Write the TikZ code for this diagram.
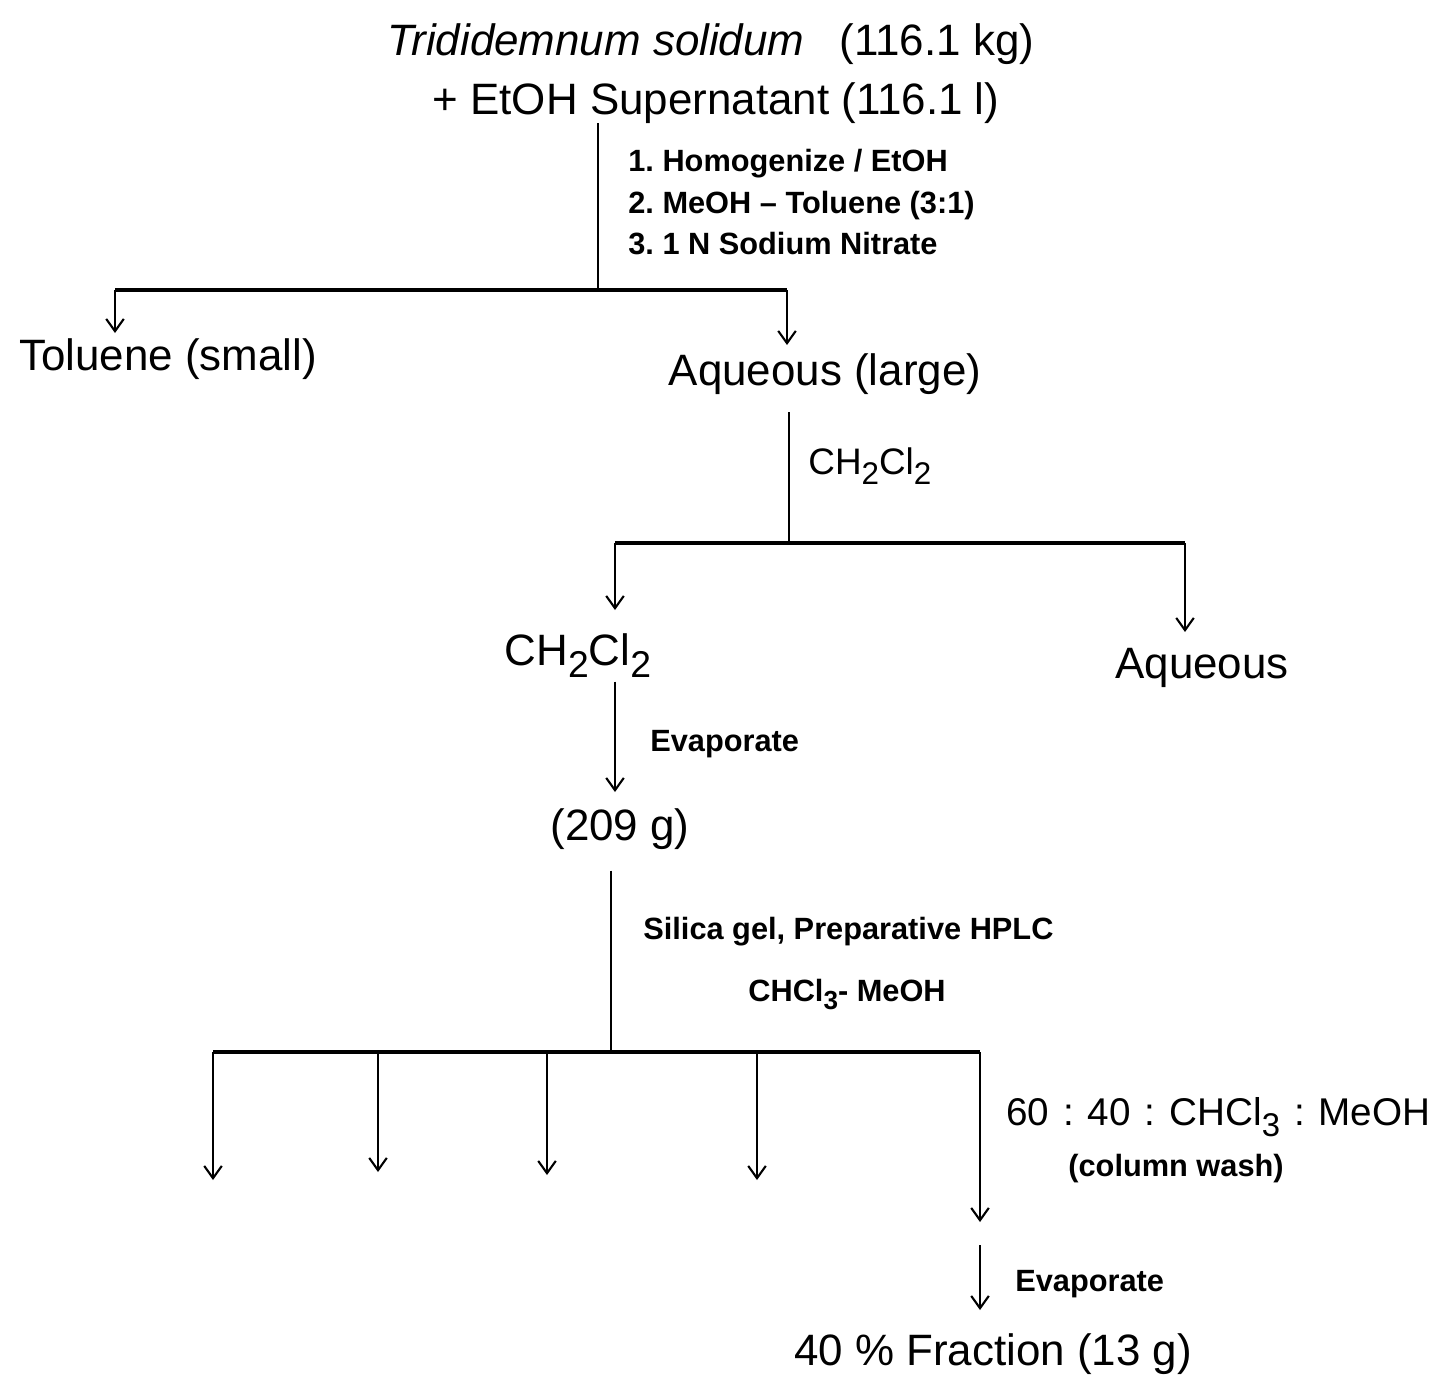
\documentclass[tikz,border=0pt]{standalone}
\usepackage{fontspec}
\setmainfont{Liberation Sans}
\usepackage{graphicx}
\usetikzlibrary{arrows.meta}
\newcommand{\lo}[1]{\raisebox{-0.55ex}{\scalebox{0.85}{#1}}}
\newcommand{\csep}{\hspace{0.36em}:\hspace{0.36em}}
\frenchspacing
\begin{document}
\begin{tikzpicture}[x=0.02cm,y=-0.02cm,
  big/.style={inner sep=0pt,font=\fontsize{25}{30}\selectfont},
  mid/.style={inner sep=0pt,font=\fontsize{21}{25}\selectfont},
  lab/.style={inner sep=0pt,anchor=base west,font=\fontsize{17.5}{21}\selectfont\bfseries},
  ln/.style={line width=1.2pt},
  bar/.style={line width=2.3pt},
  arr/.style={line width=1.2pt,-{Straight Barb[length=7pt,width=10pt]}}]
\useasboundingbox (0,0) rectangle (1439,1374);
% nodes
\node[big,anchor=base] (title) at (711,55) {\textit{Trididemnum solidum}\hspace{0.8em}(116.1 kg)};
\node[big,anchor=base] (sup) at (716,114) {+ EtOH Supernatant (116.1 l)};
\node[lab] (s1) at (628,171) {1. Homogenize / EtOH};
\node[lab] (s2) at (628,213) {2. MeOH – Toluene (3:1)};
\node[lab] (s3) at (628,254) {3. 1 N Sodium Nitrate};
\node[big,anchor=base] (tol) at (168,370) {Toluene (small)};
\node[big,anchor=base] (aql) at (825,385) {Aqueous (large)};
\node[mid,anchor=base west] (cl) at (808,474) {CH\lo{2}Cl\lo{2}};
\node[big,anchor=base] (ch) at (578,665) {CH\lo{2}Cl\lo{2}};
\node[big,anchor=base] (aq) at (1202,678) {Aqueous};
\node[lab] (ev1) at (650,751) {Evaporate};
\node[big,anchor=base] (w209) at (620,840) {(209 g)};
\node[lab] (sil) at (643,939) {Silica gel, Preparative HPLC};
\node[lab] (cm) at (748,1001) {CHCl\lo{3}- MeOH};
\node[big,anchor=base west,font=\fontsize{22}{26}\selectfont] (ratio) at (1006,1125) {60\csep 40\csep CHCl\lo{3}\csep MeOH};
\node[lab,anchor=base] (wash) at (1176,1176) {(column wash)};
\node[lab] (ev2) at (1015,1291) {Evaporate};
\node[big,anchor=base] (frac) at (993,1365) {40 \% Fraction (13 g)};
% junctions and free ends
\coordinate (j1) at (598,290);
\coordinate (a1) at (115,333);
\coordinate (a2) at (787,345);
\coordinate (j2) at (789,543);
\coordinate (b1) at (615,610);
\coordinate (b2) at (1185,632);
\coordinate (c1) at (615,792);
\coordinate (j3) at (611,1052);
\coordinate (d1) at (213,1180);
\coordinate (d2) at (378,1172);
\coordinate (d3) at (547,1175);
\coordinate (d4) at (757,1180);
\coordinate (d5) at (980,1222);
\coordinate (e0) at (980,1245);
\coordinate (e1) at (980,1310);
% connectors
\draw[ln] (sup.south -| j1) -- (j1);
\draw[bar] (a1 |- j1) -- (a2 |- j1);
\draw[arr] (a1 |- j1) -- (a1);
\draw[arr] (a2 |- j1) -- (a2);
\draw[ln,shorten <=10pt] (aql.south -| j2) -- (j2);
\draw[bar] (b1 |- j2) -- (b2 |- j2);
\draw[arr] (b1 |- j2) -- (b1);
\draw[arr] (b2 |- j2) -- (b2);
\draw[arr,shorten <=2pt] (ch.south -| c1) -- (c1);
\draw[ln,shorten <=12pt] (w209.south -| j3) -- (j3);
\draw[bar] (d1 |- j3) -- (d5 |- j3);
\foreach \d in {d1,d2,d3,d4,d5} \draw[arr] (\d |- j3) -- (\d);
\draw[arr] (e0) -- (e1);
\end{tikzpicture}
\end{document}
